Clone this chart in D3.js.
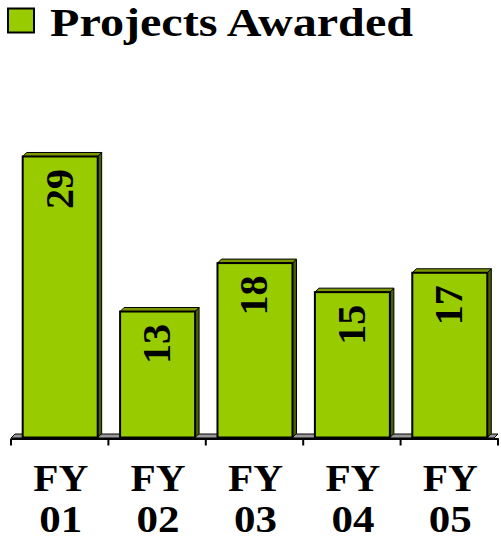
<!DOCTYPE html>
<html>
<head>
<meta charset="utf-8">
<script src="https://cdn.jsdelivr.net/npm/d3@7"></script>
<style>
  body { margin: 0; background: #fff; }
  svg { display: block; }
  text { font-family: "Liberation Serif", "Times New Roman", serif; font-weight: bold; fill: #000; }
</style>
</head>
<body>
<svg id="canvas" width="501" height="546"></svg>
<script>
'use strict';

/* chart data */
const categories = ['FY 01', 'FY 02', 'FY 03', 'FY 04', 'FY 05'];
const awarded = [29, 13, 18, 15, 17];
const seriesName = 'Projects Awarded';

const base = 437.5;      // floor of the plot
const depth = 4;         // 3d offset of bars and floor

let svg = d3.select('svg#canvas');

/* scales */
let x = d3.scaleBand()
  .domain(categories)
  .range([11, 498]);
let step = x.step();
let barW = step * 0.77;
let barOff = step * 0.12;

let y = d3.scaleLinear()
  .domain([0, 30])
  .range([base, base - 30 * 9.69]);

/* legend / title */
svg.append('rect')
  .attr('x', 8).attr('y', 8.5)
  .attr('width', 26).attr('height', 24)
  .attr('fill', '#99cc00')
  .attr('stroke', '#000').attr('stroke-width', 2);
svg.append('text')
  .attr('x', 50).attr('y', 35.5)
  .attr('font-size', 40)
  .attr('textLength', 363)
  .attr('lengthAdjust', 'spacingAndGlyphs')
  .text(seriesName);

/* floor */
let x0 = x.range()[0], x1 = x.range()[1];
svg.append('polygon')
  .attr('points', [[x0, base + 0.5], [x0 + depth, base + 0.5 - depth], [x1, base + 0.5 - depth], [x1 - depth, base + 0.5]].join(' '))
  .attr('fill', '#999999')
  .attr('stroke', '#000').attr('stroke-width', 1);

/* bars */
let bars = svg.append('g').attr('id', 'bars')
  .selectAll('g')
  .data(awarded)
  .enter().append('g');

bars.each(function(d, i){
  let g = d3.select(this);
  let bx = x(categories[i]) + barOff;
  let by = y(d);
  /* side face */
  g.append('polygon')
    .attr('points', [[bx + barW, by], [bx + barW + depth, by - depth], [bx + barW + depth, base - depth], [bx + barW, base]].join(' '))
    .attr('fill', '#4a5e00')
    .attr('stroke', '#000').attr('stroke-width', 1);
  /* top face */
  g.append('polygon')
    .attr('points', [[bx, by], [bx + depth, by - depth], [bx + barW + depth, by - depth], [bx + barW, by]].join(' '))
    .attr('fill', '#7a9900')
    .attr('stroke', '#000').attr('stroke-width', 1);
  /* front face */
  g.append('rect')
    .attr('x', bx).attr('y', by)
    .attr('width', barW).attr('height', base - by)
    .attr('fill', '#99cc00')
    .attr('stroke', '#000').attr('stroke-width', 2);
  /* value label, read bottom to top */
  let cx = bx + barW / 2 + 12.5;
  let ty = by + 12.5;
  g.append('text')
    .attr('transform', 'translate(' + cx + ',' + ty + ') rotate(-90)')
    .attr('text-anchor', 'end')
    .attr('font-size', 40)
    .text(d);
});

/* axis line and ticks at the band edges */
let axis = d3.axisBottom(x)
  .tickValues([])
  .tickSizeOuter(0);
let axisG = svg.append('g')
  .attr('transform', 'translate(0,' + (base + 1) + ')')
  .call(axis);
axisG.select('.domain').attr('stroke', '#000').attr('stroke-width', 2);
let edges = categories.map(c => x(c)).concat([x1]);
axisG.selectAll('line.edge')
  .data(edges)
  .enter().append('line')
  .attr('class', 'edge')
  .attr('x1', d => d).attr('x2', d => d)
  .attr('y1', 0).attr('y2', 7)
  .attr('stroke', '#000').attr('stroke-width', 2);

/* category labels on two lines */
let labels = svg.append('g').selectAll('g')
  .data(categories)
  .enter().append('g');
labels.append('text')
  .attr('x', d => x(d) + step / 2 + 1 - 27.5)
  .attr('y', 491)
  .attr('font-size', 38)
  .attr('textLength', 55)
  .attr('lengthAdjust', 'spacingAndGlyphs')
  .text(d => d.split(' ')[0]);
labels.append('text')
  .attr('x', d => x(d) + step / 2 + 1 - 21.5)
  .attr('y', 532)
  .attr('font-size', 38)
  .attr('textLength', 43)
  .attr('lengthAdjust', 'spacingAndGlyphs')
  .text(d => d.split(' ')[1]);
</script>
</body>
</html>
